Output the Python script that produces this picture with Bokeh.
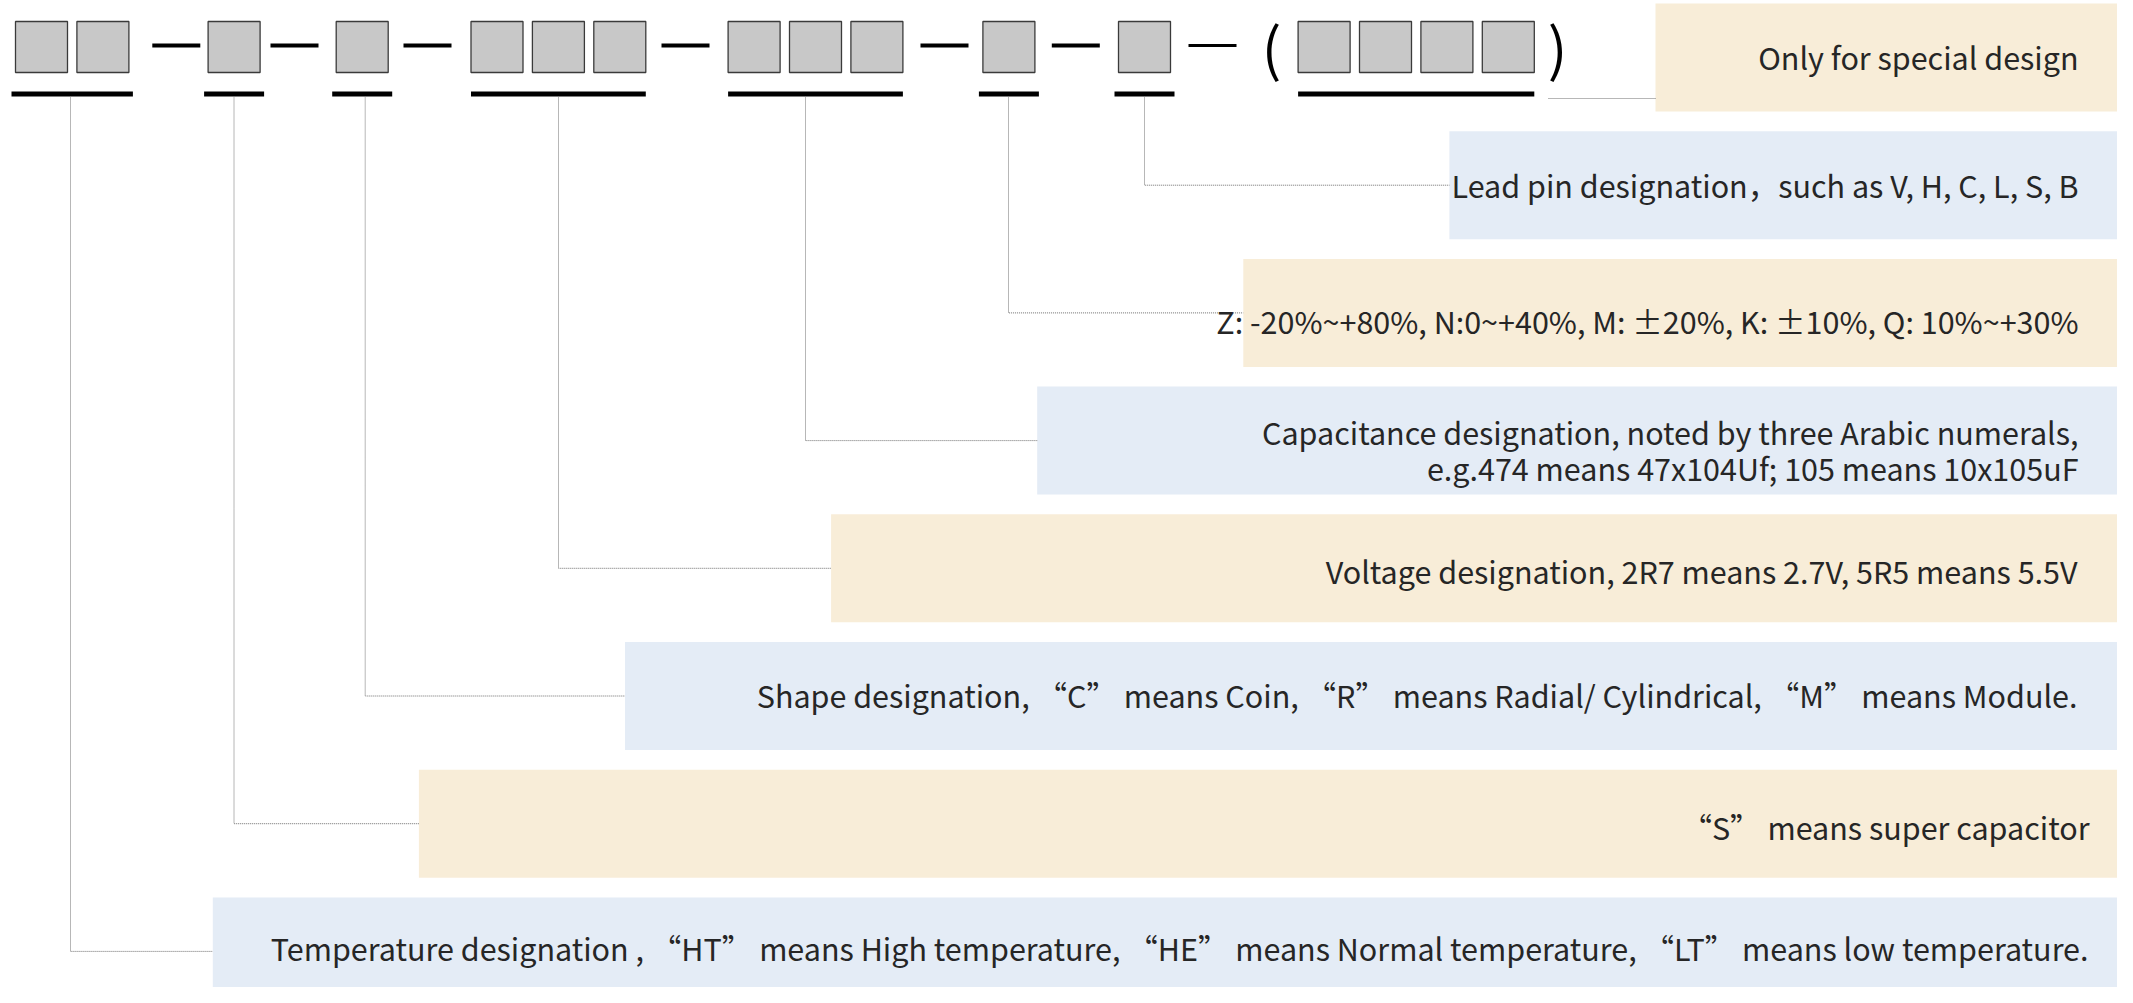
from bokeh.plotting import figure
from bokeh.models import Range1d
from bokeh.embed import file_html
from bokeh.resources import INLINE
from bokeh.core.properties import value

# ---------------- data ----------------
# number of code boxes for each field of the part number (left to right)
segment_counts = [2, 1, 1, 3, 3, 1, 1, 4]
# descriptions, top row to bottom row (row r explains field 7 - r)
descriptions = [
    "Only for special design",
    "Lead pin designation，such as V, H, C, L, S, B",
    "Z: -20%~+80%, N:0~+40%, M: ±20%, K: ±10%, Q: 10%~+30%",
    "Capacitance designation, noted by three Arabic numerals,\ne.g.474 means 47x104Uf; 105 means 10x105uF",
    "Voltage designation, 2R7 means 2.7V, 5R5 means 5.5V",
    "Shape designation, “C” means Coin, “R” means Radial/ Cylindrical, “M” means Module.",
    "“S” means super capacitor",
    "Temperature designation , “HT” means High temperature, “HE” means Normal temperature, “LT” means low temperature.",
]
row_colors = ["#F8EDD8", "#E4ECF6"]

# ---------------- layout ----------------
W, H = 2117, 987
FONT = value("Noto Sans CJK SC")
TXT = "#262626"

p = figure(width=W, height=H, output_backend="svg", toolbar_location=None,
           x_range=Range1d(0, W), y_range=Range1d(H, 0),
           min_border=0, outline_line_color=None)
p.axis.visible = False
p.grid.visible = False
p.background_fill_color = "white"
p.border_fill_color = "white"

BOX_TOP, BOX_BOT = 21, 72
BOX_W, BOX_PITCH = 52, 61.4
group_x0 = [15, 207.6, 335.7, 470.5, 727.6, 982.4, 1118, 1297.6]
dash_x0 = [151.8, 270, 403, 661, 920, 1051.3, 1188]
DASH_LEN, DASH_Y = 48, 45
UL_TOP, UL_BOT = 91, 96
conn_x = [70, 233.5, 364.7, 558, 805, 1008, 1144]

ROW_TOP0, ROW_STEP, ROW_H = 3, 127.7, 108
ROW_LEFT0, ROW_LEFT_STEP = 1655, 206.1
text_right = [2078, 2078, 2078, 2078, 2077, 2077, 2089, 2088]
text_dy = [-1, 0, 8, -9, 3, -1, 3, -3]

nrows = len(descriptions)

# description boxes
for r in range(nrows):
    top = ROW_TOP0 + ROW_STEP * r
    left = ROW_LEFT0 - ROW_LEFT_STEP * r
    p.quad(left=[left], right=[2200], top=[top], bottom=[top + ROW_H],
           fill_color=row_colors[r % 2], line_color=None)

# connectors
for k in range(len(segment_counts)):
    r = nrows - 1 - k
    cy = ROW_TOP0 + ROW_STEP * r + ROW_H / 2
    left = ROW_LEFT0 - ROW_LEFT_STEP * r
    if k < len(conn_x):
        xs = [conn_x[k], conn_x[k], left]
        ys = [UL_BOT + 1, cy, cy]
    else:
        xs = [1548, left]
        ys = [UL_BOT + 2, UL_BOT + 2]
    p.line(xs, ys, line_color="#6e6e6e", line_width=1, line_dash="1 1")

# code boxes and underlines
for k, n in enumerate(segment_counts):
    x0 = group_x0[k]
    lefts = [x0 + i * BOX_PITCH for i in range(n)]
    p.quad(left=lefts, right=[l + BOX_W for l in lefts], top=BOX_TOP, bottom=BOX_BOT,
           fill_color="#C8C8C8", line_color="#3a3a3a", line_width=1.3)
    pad = 4 if n <= 2 else 0
    p.quad(left=[x0 - pad], right=[x0 + (n - 1) * BOX_PITCH + BOX_W + pad],
           top=[UL_TOP], bottom=[UL_BOT], fill_color="black", line_color=None)

# dashes
for j, dx in enumerate(dash_x0):
    p.line([dx, dx + DASH_LEN], [DASH_Y, DASH_Y], line_color="black",
           line_width=3 if j == len(dash_x0) - 1 else 4)

# parentheses
p.text(x=[1271, 1557], y=[45, 45], text=["(", ")"], text_font=FONT,
       text_font_size="58px", text_align="center", text_baseline="middle",
       text_color="black")

# description texts
for r, d in enumerate(descriptions):
    cy = ROW_TOP0 + ROW_STEP * r + ROW_H / 2 + text_dy[r]
    lines = d.split("\n")
    for i, ln in enumerate(lines):
        p.text(x=[text_right[r]], y=[cy + i * 36], text=[ln], text_font=FONT,
               text_font_size="30.5px", text_align="right", text_baseline="middle",
               text_color=TXT)

open("out.html", "w").write(file_html(p, INLINE))
